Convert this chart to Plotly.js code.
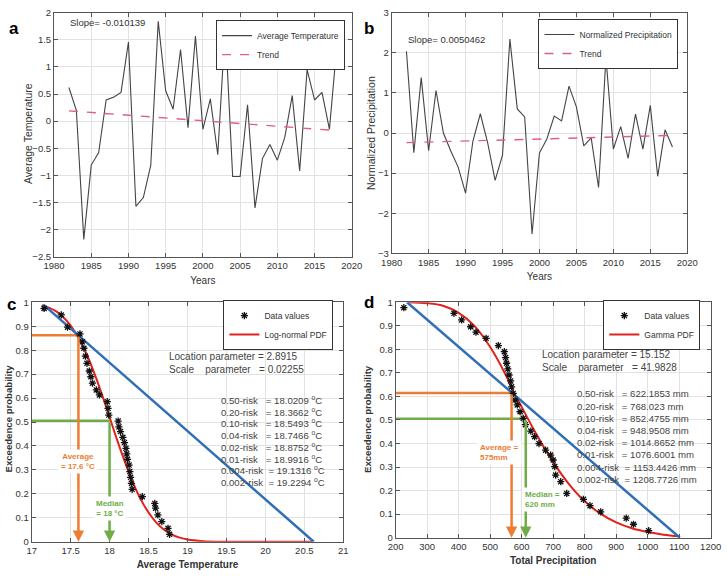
<!DOCTYPE html>
<html><head><meta charset="utf-8">
<script src="https://cdn.plot.ly/plotly-3.0.1.min.js"></script>
<style>html,body{margin:0;padding:0;background:#fff}#chart{width:728px;height:576px}</style>
</head><body><div id="chart"></div>
<script>
// ---------- Panel a / b data ----------
const years = [1982,1983,1984,1985,1986,1987,1988,1989,1990,1991,1992,1993,1994,1995,1996,1997,1998,1999,2000,
  2001,2002,2003,2004,2005,2006,2007,2008,2009,2010,2011,2012,2013,2014,2015,2016,2017,2018];
const avgTemperature = [0.62,0.2,-2.18,-0.81,-0.58,0.39,0.44,0.53,1.46,-1.57,-1.41,-0.81,1.84,0.56,0.22,1.32,-0.12,1.57,-0.15,
  0.41,-0.62,1.76,-1.02,-1.02,0.3,-1.6,-0.69,-0.43,-0.72,-0.3,0.47,-0.92,0.95,0.39,0.53,-0.15,1.4];
const trendYears = [1982, 2018];
const tempTrend = [0.19, -0.175];
const normPrecip = [2.04,-0.49,1.38,-0.44,1.06,0.0,-0.45,-0.85,-1.5,-0.2,0.48,-0.25,-1.18,-0.55,2.34,0.6,0.4,-2.52,-0.5,
  -0.15,0.42,0.3,1.17,0.65,-0.32,-0.12,-1.36,1.88,-0.4,0.16,-0.63,0.47,-0.4,0.69,-1.08,0.08,-0.35];
const precipTrend = [-0.24, -0.06];
const tempSlopeText = "Slope= -0.010139";
const precipSlopeText = "Slope= 0.0050462";

// ---------- Panel c data ----------
const tempSorted = [17.16,17.38,17.46,17.62,17.65,17.67,17.69,17.71,17.74,17.76,17.78,17.83,17.87,17.97,17.98,17.99,
  18.11,18.12,18.14,18.17,18.19,18.21,18.22,18.23,18.25,18.26,18.27,18.28,18.29,18.42,18.58,18.59,18.62,18.67,18.75,18.77];
const tempExceed = [0.974,0.947,0.896,0.868,0.835,0.808,0.775,0.745,0.713,0.689,0.662,0.634,0.613,0.585,0.557,0.529,
  0.504,0.48,0.46,0.436,0.414,0.39,0.367,0.344,0.32,0.293,0.269,0.244,0.219,0.188,0.16,0.14,0.112,0.084,0.056,0.031];
const lognormX = [17.13,17.3,17.4,17.5,17.6,17.7,17.8,17.9,18.0,18.1,18.2,18.3,18.4,18.5,18.6,18.7,18.8,18.9,19.0,19.2,19.5,20.0,20.6];
const lognormP = [0.988,0.965,0.94,0.903,0.852,0.787,0.707,0.617,0.52,0.422,0.33,0.247,0.177,0.122,0.08,0.05,0.03,0.017,0.009,0.0025,0.0002,0,0];
const tempLineX = [17.15, 20.62];
const tempLineP = [0.99, 0];
const tempAverage = 17.6, tempAverageP = 0.862;
const tempMedian = 18.0, tempMedianP = 0.505;
const riskLabels = ["0.50-risk","0.20-risk","0.10-risk","0.04-risk","0.02-risk","0.01-risk","0.004-risk","0.002-risk"];
const tempRiskValues = ["18.0209","18.3662","18.5493","18.7466","18.8752","18.9916","19.1316","19.2294"];
const tempParams = ["Location parameter = 2.8915", "Scale    parameter   = 0.02255"];

// ---------- Panel d data ----------
const precipSorted = [226,385,409.5,438,455,487,526,545,549,552,556,560,565,568,573,579,586,595,605,612,629,641,655,676,692,700,
  705,708,724,743,796,817,851,932,955,1003];
const precipExceed = [0.977,0.953,0.925,0.896,0.873,0.847,0.816,0.79,0.765,0.741,0.717,0.691,0.666,0.641,0.613,0.585,0.564,0.535,
  0.507,0.48,0.453,0.429,0.4,0.372,0.351,0.33,0.302,0.266,0.238,0.188,0.163,0.136,0.11,0.083,0.057,0.03];
const gammaX = [240,300,350,400,450,500,550,575,600,650,700,750,800,850,900,950,1000,1050,1100];
const gammaP = [1.0,0.996,0.985,0.955,0.9,0.81,0.69,0.618,0.555,0.432,0.321,0.228,0.155,0.102,0.065,0.04,0.024,0.013,0.006];
const precipLineX = [236, 1102];
const precipLineP = [1, 0];
const precipAverage = 568, precipAverageP = 0.615;
const precipMedian = 613, precipMedianP = 0.505;
const precipRiskValues = ["622.1853","768.023","852.4755","948.9508","1014.8652","1076.6001","1153.4426","1208.7726"];
const precipParams = ["Location parameter = 15.152", "Scale    parameter   = 41.9828"];

// ---------- styling ----------
const FONT = '"Liberation Sans",Arial,sans-serif';
const ORANGE = '#ed7d31', GREEN = '#70ad47', BLUE = '#2e6fb7', RED = '#e3211c';
const nb = s => s.replace(/ /g, '\u00a0');

const traces = [
  {x: years, y: avgTemperature, type:'scatter', mode:'lines', name:'Average Temperature',
   line:{color:'#444', width:1.1}, xaxis:'x', yaxis:'y', legend:'legend'},
  {x: trendYears, y: tempTrend, type:'scatter', mode:'lines', name:'Trend',
   line:{color:'#e0607a', width:1.4, dash:'dash'}, xaxis:'x', yaxis:'y', legend:'legend'},
  {x: years, y: normPrecip, type:'scatter', mode:'lines', name:'Normalized Precipitation',
   line:{color:'#444', width:1.1}, xaxis:'x2', yaxis:'y2', legend:'legend2'},
  {x: trendYears, y: precipTrend, type:'scatter', mode:'lines', name:'Trend',
   line:{color:'#e0607a', width:1.4, dash:'dash'}, xaxis:'x2', yaxis:'y2', legend:'legend2'},
  // panel c
  {x: [17, tempAverage], y: [tempAverageP, tempAverageP], mode:'lines', showlegend:false,
   line:{color:ORANGE, width:2.5}, xaxis:'x3', yaxis:'y3'},
  {x: [17, tempMedian], y: [tempMedianP, tempMedianP], mode:'lines', showlegend:false,
   line:{color:GREEN, width:2.5}, xaxis:'x3', yaxis:'y3'},
  {x: lognormX, y: lognormP, mode:'lines', name:'Log-normal PDF', legendrank:2,
   line:{color:RED, width:2, shape:'spline'}, xaxis:'x3', yaxis:'y3', legend:'legend3'},
  {x: tempLineX, y: tempLineP, mode:'lines', showlegend:false,
   line:{color:BLUE, width:2.5}, xaxis:'x3', yaxis:'y3'},
  {x: tempSorted, y: tempExceed, mode:'markers', name:'Data values', legendrank:1,
   marker:{symbol:'asterisk-open', size:6, color:'#111', line:{color:'#111', width:1.3}},
   xaxis:'x3', yaxis:'y3', legend:'legend3'},
  // panel d
  {x: [200, precipAverage], y: [precipAverageP, precipAverageP], mode:'lines', showlegend:false,
   line:{color:ORANGE, width:2.5}, xaxis:'x4', yaxis:'y4'},
  {x: [200, precipMedian], y: [precipMedianP, precipMedianP], mode:'lines', showlegend:false,
   line:{color:GREEN, width:2.5}, xaxis:'x4', yaxis:'y4'},
  {x: gammaX, y: gammaP, mode:'lines', name:'Gamma PDF', legendrank:2,
   line:{color:RED, width:2, shape:'spline'}, xaxis:'x4', yaxis:'y4', legend:'legend4'},
  {x: precipLineX, y: precipLineP, mode:'lines', showlegend:false,
   line:{color:BLUE, width:2.5}, xaxis:'x4', yaxis:'y4'},
  {x: precipSorted, y: precipExceed, mode:'markers', name:'Data values', legendrank:1,
   marker:{symbol:'asterisk-open', size:6, color:'#111', line:{color:'#111', width:1.3}},
   xaxis:'x4', yaxis:'y4', legend:'legend4'}
];

function ax(extra){
  return Object.assign({showline:true, linecolor:'#555', linewidth:1, mirror:'ticks', ticks:'inside', ticklen:4,
    tickcolor:'#555', showgrid:true, gridcolor:'#e2e2e2', zeroline:false,
    tickfont:{family:FONT, size:9.5, color:'#333'}}, extra);
}
function leg(x, y){
  return {x:x, y:y, xanchor:'right', yanchor:'top', bgcolor:'#fff', bordercolor:'#333', borderwidth:1,
    font:{family:FONT, size:8.5, color:'#333'}, itemwidth:30, tracegroupgap:0};
}

const ann = [];
[['a',0.0096,0.970],['b',0.507,0.970],['c',0.007,0.4705],['d',0.507,0.474]].forEach(p=>{
  ann.push({text:'<b>'+p[0]+'</b>', xref:'paper', yref:'paper', x:p[1], y:p[2], showarrow:false,
    font:{family:FONT, size:17, color:'#000'}});
});
// y-axis titles (rotated)
[['Average Temperature', 28, 134, false], ['Normalized Precipitation', 371, 133, false],
 ['Exceedence probability', 7.5, 419, true], ['Exceedence probability', 367, 419, true]].forEach(t=>{
  ann.push({text:t[0], xref:'paper', yref:'paper', x:t[1]/728, y:1-t[2]/576, textangle:-90, showarrow:false,
    xanchor:'center', yanchor:'middle',
    font:{family:FONT, size:t[3]?9.6:10.5, color:'#333', weight:t[3]?'bold':'normal'}});
});
ann.push({text:tempSlopeText, xref:'x', yref:'y', x:1981.9, y:1.81, xanchor:'left', showarrow:false,
  font:{family:FONT, size:9.5, color:'#333'}});
ann.push({text:precipSlopeText, xref:'x2', yref:'y2', x:1982.0, y:2.34, xanchor:'left', showarrow:false,
  font:{family:FONT, size:9.5, color:'#333'}});
function arrow(xr, yr, x, p, col){
  ann.push({text:'', xref:xr, yref:yr, axref:xr, ayref:yr, x:x, y:0, ax:x, ay:p, showarrow:true,
    arrowhead:2, arrowsize:0.9, arrowwidth:2.5, arrowcolor:col});
}
arrow('x3','y3', tempAverage, tempAverageP, ORANGE);
arrow('x3','y3', tempMedian, tempMedianP, GREEN);
arrow('x4','y4', precipAverage, precipAverageP, ORANGE);
arrow('x4','y4', precipMedian, precipMedianP, GREEN);
function lab(xr, yr, x, y, t, col, xanchor, align){
  ann.push({text:t, xref:xr, yref:yr, x:x, y:y, xanchor:xanchor, align:align, showarrow:false,
    bgcolor:'#fff', borderpad:2, font:{family:FONT, size:8, color:col, weight:'bold'}});
}
lab('x3','y3', tempAverage, 0.334, 'Average<br>= '+tempAverage+' °C', ORANGE, 'center', 'center');
lab('x3','y3', tempMedian, 0.137, 'Median<br>= '+tempMedian.toFixed(0)+' °C', GREEN, 'center', 'center');
lab('x4','y4', 458, 0.363, 'Average =<br>575mm', ORANGE, 'left', 'left');
lab('x4','y4', 600, 0.162, 'Median =<br>620 mm', GREEN, 'left', 'left');
tempParams.forEach((t,i)=>ann.push({text:nb(t), xref:'x3', yref:'y3', x:18.733, y:0.774-i*0.054, xanchor:'left',
  showarrow:false, font:{family:FONT, size:10, color:'#444'}}));
precipParams.forEach((t,i)=>ann.push({text:nb(t), xref:'x4', yref:'y4', x:657, y:0.778-i*0.054, xanchor:'left',
  showarrow:false, font:{family:FONT, size:10, color:'#444'}}));
riskLabels.forEach((r,i)=>{
  const pad = r.length > 9 ? '  ' : '   ';
  ann.push({text:nb(r+pad+'= '+tempRiskValues[i]+' ')+'<sup>o</sup>C', xref:'x3', yref:'y3', x:19.41, y:0.592-i*0.0489,
    xanchor:'left', showarrow:false, font:{family:FONT, size:9.6, color:'#444'}});
  ann.push({text:nb(r+pad+'= '+precipRiskValues[i]+' mm'), xref:'x4', yref:'y4', x:769, y:0.611-i*0.0518,
    xanchor:'left', showarrow:false, font:{family:FONT, size:9.6, color:'#444'}});
});

const layout = {
  width:728, height:576, margin:{l:0,r:0,t:0,b:0}, paper_bgcolor:'#fff', plot_bgcolor:'#fff',
  font:{family:FONT, color:'#333'},
  xaxis: ax({domain:[0.0742,0.4832], range:[1980,2020], tick0:1980, dtick:5, anchor:'y',
    title:{text:'Years', font:{family:FONT, size:10, color:'#333'}, standoff:6}}),
  yaxis: ax({domain:[0.5543,0.978], range:[-2.5,2], dtick:0.5, anchor:'x'}),
  xaxis2: ax({domain:[0.538,0.944], range:[1980,2020], tick0:1980, dtick:5, anchor:'y2',
    title:{text:'Years', font:{family:FONT, size:10, color:'#333'}, standoff:6}}),
  yaxis2: ax({domain:[0.5602,0.978], range:[-3,3], dtick:1, anchor:'x2'}),
  xaxis3: ax({domain:[0.0435,0.4716], range:[17,21], dtick:0.5, anchor:'y3',
    title:{text:'Average Temperature', font:{family:FONT, size:10, color:'#333', weight:'bold'}, standoff:5}}),
  yaxis3: ax({domain:[0.0595,0.4752], range:[0,1], dtick:0.1, anchor:'x3'}),
  xaxis4: ax({domain:[0.5435,0.9762], range:[200,1200], dtick:100, anchor:'y4',
    title:{text:'Total Precipitation', font:{family:FONT, size:10, color:'#333', weight:'bold'}, standoff:5}}),
  yaxis4: ax({domain:[0.0665,0.4752], range:[0,1], dtick:0.1, anchor:'x4'}),
  legend: leg(0.474, 0.965),
  legend2: leg(0.932, 0.967),
  legend3: leg(0.458, 0.479),
  legend4: leg(0.962, 0.479),
  annotations: ann,
  showlegend:true
};
Plotly.newPlot('chart', traces, layout, {displayModeBar:false, staticPlot:true});
</script></body></html>
